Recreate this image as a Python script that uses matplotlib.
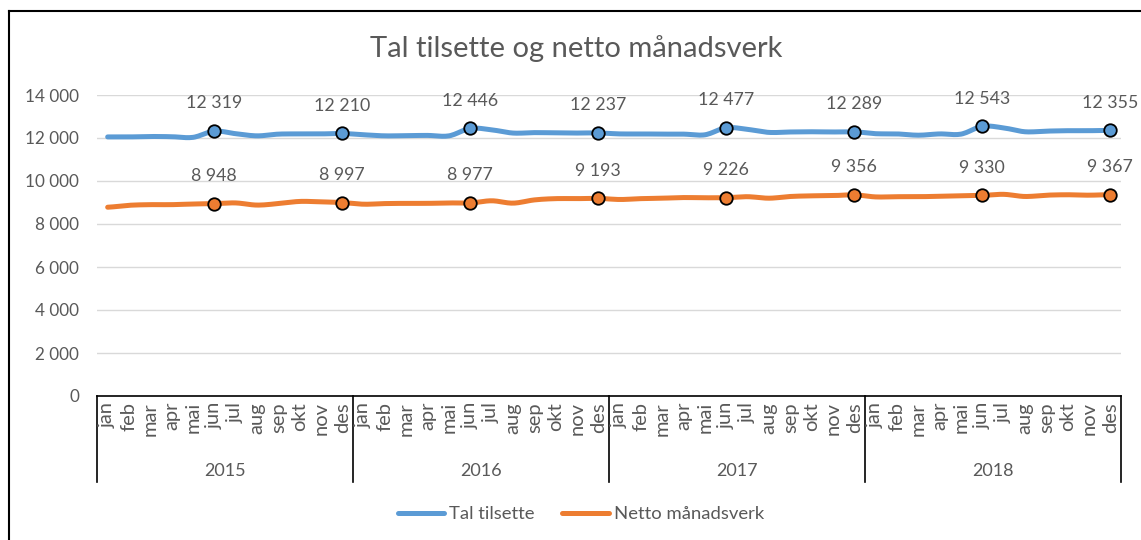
import numpy as np
import matplotlib
matplotlib.use("Agg")
import matplotlib.pyplot as plt
from matplotlib.lines import Line2D
import matplotlib.transforms as mtransforms

plt.rcParams['font.family'] = ['Lato', 'DejaVu Sans']

years = ["2015", "2016", "2017", "2018"]
months = ["jan", "feb", "mar", "apr", "mai", "jun", "jul", "aug", "sep", "okt", "nov", "des"]

tal_tilsette = [
    12050, 12050, 12070, 12060, 12030, 12319, 12200, 12100, 12180, 12190, 12190, 12210,
    12150, 12100, 12110, 12120, 12100, 12446, 12380, 12230, 12250, 12240, 12230, 12237,
    12190, 12190, 12180, 12180, 12150, 12477, 12400, 12260, 12280, 12290, 12280, 12289,
    12200, 12190, 12130, 12190, 12180, 12543, 12470, 12290, 12320, 12340, 12340, 12355,
]
netto_manadsverk = [
    8780, 8870, 8900, 8900, 8930, 8948, 8980, 8880, 8950, 9050, 9030, 8997,
    8920, 8950, 8960, 8960, 8980, 8977, 9080, 8970, 9120, 9180, 9180, 9193,
    9140, 9180, 9200, 9230, 9220, 9226, 9270, 9200, 9280, 9310, 9320, 9356,
    9260, 9270, 9270, 9290, 9310, 9330, 9380, 9280, 9340, 9360, 9340, 9367,
]
labelled_months = ["jun", "des"]

series_names = ["Tal tilsette", "Netto månadsverk"]
colors = ["#5B9BD5", "#ED7D31"]
text_color = "#595959"

W, H = 1141, 540
fig = plt.figure(figsize=(W / 100, H / 100), dpi=100)
ax_left, ax_right, ax_top, ax_bottom = 97, 1121, 95, 396
ax = fig.add_axes([ax_left / W, 1 - ax_bottom / H, (ax_right - ax_left) / W, (ax_bottom - ax_top) / H])

n = len(years) * len(months)
x = np.arange(n)


def smooth(xs, ys, k=12):
    # Catmull-Rom curve through the points (Excel "smoothed line" look)
    xs = np.asarray(xs, float)
    ys = np.asarray(ys, float)
    px = np.concatenate([[2 * xs[0] - xs[1]], xs, [2 * xs[-1] - xs[-2]]])
    py = np.concatenate([[ys[0]], ys, [ys[-1]]])
    outx, outy = [], []
    t = np.linspace(0, 1, k, endpoint=False)
    for i in range(1, len(px) - 2):
        for arr, out in ((px, outx), (py, outy)):
            p0, p1, p2, p3 = arr[i - 1], arr[i], arr[i + 1], arr[i + 2]
            out.extend(0.5 * ((2 * p1) + (-p0 + p2) * t + (2 * p0 - 5 * p1 + 4 * p2 - p3) * t ** 2
                              + (-p0 + 3 * p1 - 3 * p2 + p3) * t ** 3))
    outx.append(xs[-1])
    outy.append(ys[-1])
    return np.array(outx), np.array(outy)


handles = []
for vals, col, name in zip([tal_tilsette, netto_manadsverk], colors, series_names):
    sx, sy = smooth(x, vals)
    h, = ax.plot(sx, sy, color=col, lw=3.6, solid_capstyle='round', zorder=3, label=name)
    handles.append(h)
    idx = [i for i in range(n) if months[i % 12] in labelled_months]
    ax.plot(x[idx], np.array(vals)[idx], linestyle='none', marker='o', markersize=9,
            markerfacecolor=col, markeredgecolor='black', markeredgewidth=1.3, zorder=4)
    for i in idx:
        ax.annotate(f"{vals[i]:,}".replace(",", " "), (x[i], vals[i]), xytext=(0, 20),
                    textcoords='offset points', ha='center', va='center',
                    fontsize=12.8, color=text_color, zorder=5)

ax.set_xlim(-0.5, n - 0.5)
ax.set_ylim(0, 14000)
yt = np.arange(0, 14001, 2000)
ax.set_yticks(yt)
ax.set_yticklabels([f"{v:,}".replace(",", " ") for v in yt], fontsize=12.3, color=text_color)
ax.tick_params(axis='y', length=0, pad=13)
ax.set_xticks([])
ax.grid(axis='y', color='#D9D9D9', lw=1)
ax.set_axisbelow(True)
for s in ['top', 'right', 'left']:
    ax.spines[s].set_visible(False)
ax.spines['bottom'].set_color('black')
ax.spines['bottom'].set_linewidth(1.2)

trans = mtransforms.blended_transform_factory(ax.transData, ax.transAxes)
ph = ax_bottom - ax_top
sep_bottom = -(482 - ax_bottom) / ph
for b in np.arange(-0.5, n, 12):
    ax.plot([b, b], [0, sep_bottom], color='black', lw=1.2, transform=trans, clip_on=False)
for i in range(n):
    ax.text(x[i], -6 / ph, months[i % 12], rotation=90, ha='center', va='top',
            fontsize=14.5, color=text_color, transform=trans)
for j, yr in enumerate(years):
    ax.text(j * 12 + 5.5, -(471 - ax_bottom) / ph, yr, ha='center', va='center',
            fontsize=13, color=text_color, transform=trans)

fig.text(576 / W, 1 - 49 / H, "Tal tilsette og netto månadsverk", ha='center', va='center',
         fontsize=21, color=text_color)

fig.legend(handles=handles, labels=series_names, loc='center', bbox_to_anchor=(581 / W, 1 - 514 / H),
           ncol=2, frameon=False, fontsize=13.3, handlelength=2.5, handletextpad=0.3,
           columnspacing=1.5, labelcolor=text_color)

fig.add_artist(Line2D([9 / W, 9 / W], [0, 1 - 11 / H], transform=fig.transFigure, color='black', lw=1.5))
fig.add_artist(Line2D([9 / W, 1], [1 - 11 / H, 1 - 11 / H], transform=fig.transFigure, color='black', lw=1.5))

fig.savefig("out.png", dpi=100)
